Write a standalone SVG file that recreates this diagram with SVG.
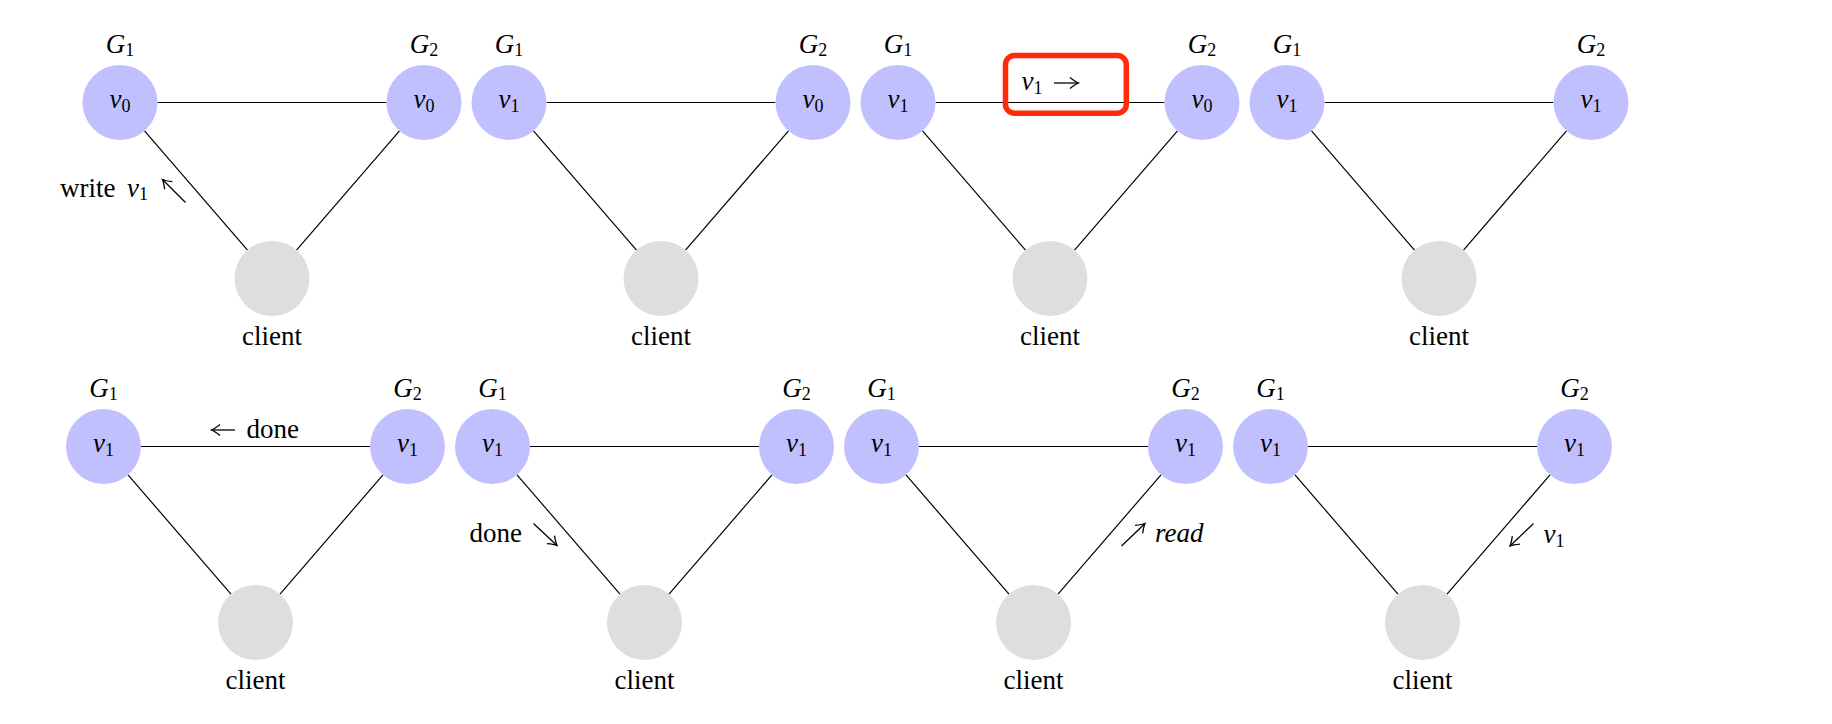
<svg xmlns="http://www.w3.org/2000/svg" width="1832" height="724" viewBox="0 0 1832 724" font-family="'Liberation Serif', 'Times New Roman', serif">
<defs>
<style>
.srv{fill:#c0c0ff}
.cl{fill:#dedede}
.e{stroke:#000;stroke-width:1.2;fill:none}
.a{stroke:#000;stroke-width:1.3;fill:none;marker-end:url(#ah)}
.t{font-family:'Liberation Serif','Times New Roman',serif;font-size:27px;fill:#000}
.i{font-style:italic}
.s{font-size:18px}
.box{fill:none;stroke:#ff2a0a;stroke-width:5.5}
</style>
<marker id="ah" markerWidth="14" markerHeight="14" refX="0" refY="0" viewBox="-10 -7 12 14" orient="auto" markerUnits="userSpaceOnUse">
<path d="M-8.5,-5.5 Q-3,-1.2 0,0 Q-3,1.2 -8.5,5.5" fill="none" stroke="#000" stroke-width="1.3"/>
</marker>
</defs>
<rect width="1832" height="724" fill="#fff"/>

<g id="connectors">
<line class="e" x1="157.5" y1="102.5" x2="386.5" y2="102.5"/>
<line class="e" x1="144.5" y1="130.9" x2="247.5" y2="250.1"/>
<line class="e" x1="399.5" y1="130.9" x2="296.5" y2="250.1"/>
<line class="e" x1="546.5" y1="102.5" x2="775.5" y2="102.5"/>
<line class="e" x1="533.5" y1="130.9" x2="636.5" y2="250.1"/>
<line class="e" x1="788.5" y1="130.9" x2="685.5" y2="250.1"/>
<line class="e" x1="935.5" y1="102.5" x2="1164.5" y2="102.5"/>
<line class="e" x1="922.5" y1="130.9" x2="1025.5" y2="250.1"/>
<line class="e" x1="1177.5" y1="130.9" x2="1074.5" y2="250.1"/>
<line class="e" x1="1324.5" y1="102.5" x2="1553.5" y2="102.5"/>
<line class="e" x1="1311.5" y1="130.9" x2="1414.5" y2="250.1"/>
<line class="e" x1="1566.5" y1="130.9" x2="1463.5" y2="250.1"/>
<line class="e" x1="141" y1="446.5" x2="370" y2="446.5"/>
<line class="e" x1="128" y1="474.9" x2="231" y2="594.1"/>
<line class="e" x1="383" y1="474.9" x2="280" y2="594.1"/>
<line class="e" x1="530" y1="446.5" x2="759" y2="446.5"/>
<line class="e" x1="517" y1="474.9" x2="620" y2="594.1"/>
<line class="e" x1="772" y1="474.9" x2="669" y2="594.1"/>
<line class="e" x1="919" y1="446.5" x2="1148" y2="446.5"/>
<line class="e" x1="906" y1="474.9" x2="1009" y2="594.1"/>
<line class="e" x1="1161" y1="474.9" x2="1058" y2="594.1"/>
<line class="e" x1="1308" y1="446.5" x2="1537" y2="446.5"/>
<line class="e" x1="1295" y1="474.9" x2="1398" y2="594.1"/>
<line class="e" x1="1550" y1="474.9" x2="1447" y2="594.1"/>
</g>

<g id="t1-G1"><circle class="srv" cx="120" cy="102.5" r="37.5"/><text class="t" x="120" y="108" text-anchor="middle"><tspan class="i">v</tspan><tspan class="s" dy="3.5">0</tspan></text><text class="t" x="120" y="52.5" text-anchor="middle"><tspan class="i">G</tspan><tspan class="s" dy="3.5">1</tspan></text></g>
<g id="t1-G2"><circle class="srv" cx="424" cy="102.5" r="37.5"/><text class="t" x="424" y="108" text-anchor="middle"><tspan class="i">v</tspan><tspan class="s" dy="3.5">0</tspan></text><text class="t" x="424" y="52.5" text-anchor="middle"><tspan class="i">G</tspan><tspan class="s" dy="3.5">2</tspan></text></g>
<g id="t1-client"><circle class="cl" cx="272" cy="278.5" r="37.5"/><text class="t" x="272" y="345" text-anchor="middle">client</text></g>
<g id="t1-label"><text class="t" x="60" y="196.5">write</text><text class="t" x="127" y="196.5"><tspan class="i">v</tspan><tspan class="s" dy="3.5">1</tspan></text><path class="a" d="M185.5,202.5 L162.5,179.5"/></g>

<g id="t2-G1"><circle class="srv" cx="509" cy="102.5" r="37.5"/><text class="t" x="509" y="108" text-anchor="middle"><tspan class="i">v</tspan><tspan class="s" dy="3.5">1</tspan></text><text class="t" x="509" y="52.5" text-anchor="middle"><tspan class="i">G</tspan><tspan class="s" dy="3.5">1</tspan></text></g>
<g id="t2-G2"><circle class="srv" cx="813" cy="102.5" r="37.5"/><text class="t" x="813" y="108" text-anchor="middle"><tspan class="i">v</tspan><tspan class="s" dy="3.5">0</tspan></text><text class="t" x="813" y="52.5" text-anchor="middle"><tspan class="i">G</tspan><tspan class="s" dy="3.5">2</tspan></text></g>
<g id="t2-client"><circle class="cl" cx="661" cy="278.5" r="37.5"/><text class="t" x="661" y="345" text-anchor="middle">client</text></g>

<g id="t3-G1"><circle class="srv" cx="898" cy="102.5" r="37.5"/><text class="t" x="898" y="108" text-anchor="middle"><tspan class="i">v</tspan><tspan class="s" dy="3.5">1</tspan></text><text class="t" x="898" y="52.5" text-anchor="middle"><tspan class="i">G</tspan><tspan class="s" dy="3.5">1</tspan></text></g>
<g id="t3-G2"><circle class="srv" cx="1202" cy="102.5" r="37.5"/><text class="t" x="1202" y="108" text-anchor="middle"><tspan class="i">v</tspan><tspan class="s" dy="3.5">0</tspan></text><text class="t" x="1202" y="52.5" text-anchor="middle"><tspan class="i">G</tspan><tspan class="s" dy="3.5">2</tspan></text></g>
<g id="t3-client"><circle class="cl" cx="1050" cy="278.5" r="37.5"/><text class="t" x="1050" y="345" text-anchor="middle">client</text></g>
<g id="t3-label"><rect class="box" x="1005.5" y="55.5" width="120.8" height="57.8" rx="9"/><text class="t" x="1021.5" y="90"><tspan class="i">v</tspan><tspan class="s" dy="3.5">1</tspan></text><path class="a" d="M1054,83 L1078.5,83"/></g>

<g id="t4-G1"><circle class="srv" cx="1287" cy="102.5" r="37.5"/><text class="t" x="1287" y="108" text-anchor="middle"><tspan class="i">v</tspan><tspan class="s" dy="3.5">1</tspan></text><text class="t" x="1287" y="52.5" text-anchor="middle"><tspan class="i">G</tspan><tspan class="s" dy="3.5">1</tspan></text></g>
<g id="t4-G2"><circle class="srv" cx="1591" cy="102.5" r="37.5"/><text class="t" x="1591" y="108" text-anchor="middle"><tspan class="i">v</tspan><tspan class="s" dy="3.5">1</tspan></text><text class="t" x="1591" y="52.5" text-anchor="middle"><tspan class="i">G</tspan><tspan class="s" dy="3.5">2</tspan></text></g>
<g id="t4-client"><circle class="cl" cx="1439" cy="278.5" r="37.5"/><text class="t" x="1439" y="345" text-anchor="middle">client</text></g>

<g id="b1-G1"><circle class="srv" cx="103.5" cy="446.5" r="37.5"/><text class="t" x="103.5" y="452" text-anchor="middle"><tspan class="i">v</tspan><tspan class="s" dy="3.5">1</tspan></text><text class="t" x="103.5" y="396.5" text-anchor="middle"><tspan class="i">G</tspan><tspan class="s" dy="3.5">1</tspan></text></g>
<g id="b1-G2"><circle class="srv" cx="407.5" cy="446.5" r="37.5"/><text class="t" x="407.5" y="452" text-anchor="middle"><tspan class="i">v</tspan><tspan class="s" dy="3.5">1</tspan></text><text class="t" x="407.5" y="396.5" text-anchor="middle"><tspan class="i">G</tspan><tspan class="s" dy="3.5">2</tspan></text></g>
<g id="b1-client"><circle class="cl" cx="255.5" cy="622.5" r="37.5"/><text class="t" x="255.5" y="689" text-anchor="middle">client</text></g>
<g id="b1-label"><path class="a" d="M235,430 L211.5,430"/><text class="t" x="246.5" y="437.5">done</text></g>

<g id="b2-G1"><circle class="srv" cx="492.5" cy="446.5" r="37.5"/><text class="t" x="492.5" y="452" text-anchor="middle"><tspan class="i">v</tspan><tspan class="s" dy="3.5">1</tspan></text><text class="t" x="492.5" y="396.5" text-anchor="middle"><tspan class="i">G</tspan><tspan class="s" dy="3.5">1</tspan></text></g>
<g id="b2-G2"><circle class="srv" cx="796.5" cy="446.5" r="37.5"/><text class="t" x="796.5" y="452" text-anchor="middle"><tspan class="i">v</tspan><tspan class="s" dy="3.5">1</tspan></text><text class="t" x="796.5" y="396.5" text-anchor="middle"><tspan class="i">G</tspan><tspan class="s" dy="3.5">2</tspan></text></g>
<g id="b2-client"><circle class="cl" cx="644.5" cy="622.5" r="37.5"/><text class="t" x="644.5" y="689" text-anchor="middle">client</text></g>
<g id="b2-label"><text class="t" x="469.5" y="541.5">done</text><path class="a" d="M533.5,523.5 L557,545.5"/></g>

<g id="b3-G1"><circle class="srv" cx="881.5" cy="446.5" r="37.5"/><text class="t" x="881.5" y="452" text-anchor="middle"><tspan class="i">v</tspan><tspan class="s" dy="3.5">1</tspan></text><text class="t" x="881.5" y="396.5" text-anchor="middle"><tspan class="i">G</tspan><tspan class="s" dy="3.5">1</tspan></text></g>
<g id="b3-G2"><circle class="srv" cx="1185.5" cy="446.5" r="37.5"/><text class="t" x="1185.5" y="452" text-anchor="middle"><tspan class="i">v</tspan><tspan class="s" dy="3.5">1</tspan></text><text class="t" x="1185.5" y="396.5" text-anchor="middle"><tspan class="i">G</tspan><tspan class="s" dy="3.5">2</tspan></text></g>
<g id="b3-client"><circle class="cl" cx="1033.5" cy="622.5" r="37.5"/><text class="t" x="1033.5" y="689" text-anchor="middle">client</text></g>
<g id="b3-label"><path class="a" d="M1121.5,546 L1145,523.5"/><text class="t i" x="1155" y="541.5">read</text></g>

<g id="b4-G1"><circle class="srv" cx="1270.5" cy="446.5" r="37.5"/><text class="t" x="1270.5" y="452" text-anchor="middle"><tspan class="i">v</tspan><tspan class="s" dy="3.5">1</tspan></text><text class="t" x="1270.5" y="396.5" text-anchor="middle"><tspan class="i">G</tspan><tspan class="s" dy="3.5">1</tspan></text></g>
<g id="b4-G2"><circle class="srv" cx="1574.5" cy="446.5" r="37.5"/><text class="t" x="1574.5" y="452" text-anchor="middle"><tspan class="i">v</tspan><tspan class="s" dy="3.5">1</tspan></text><text class="t" x="1574.5" y="396.5" text-anchor="middle"><tspan class="i">G</tspan><tspan class="s" dy="3.5">2</tspan></text></g>
<g id="b4-client"><circle class="cl" cx="1422.5" cy="622.5" r="37.5"/><text class="t" x="1422.5" y="689" text-anchor="middle">client</text></g>
<g id="b4-label"><path class="a" d="M1533.5,523.5 L1510,546"/><text class="t" x="1543.5" y="543"><tspan class="i">v</tspan><tspan class="s" dy="3.5">1</tspan></text></g>
</svg>
